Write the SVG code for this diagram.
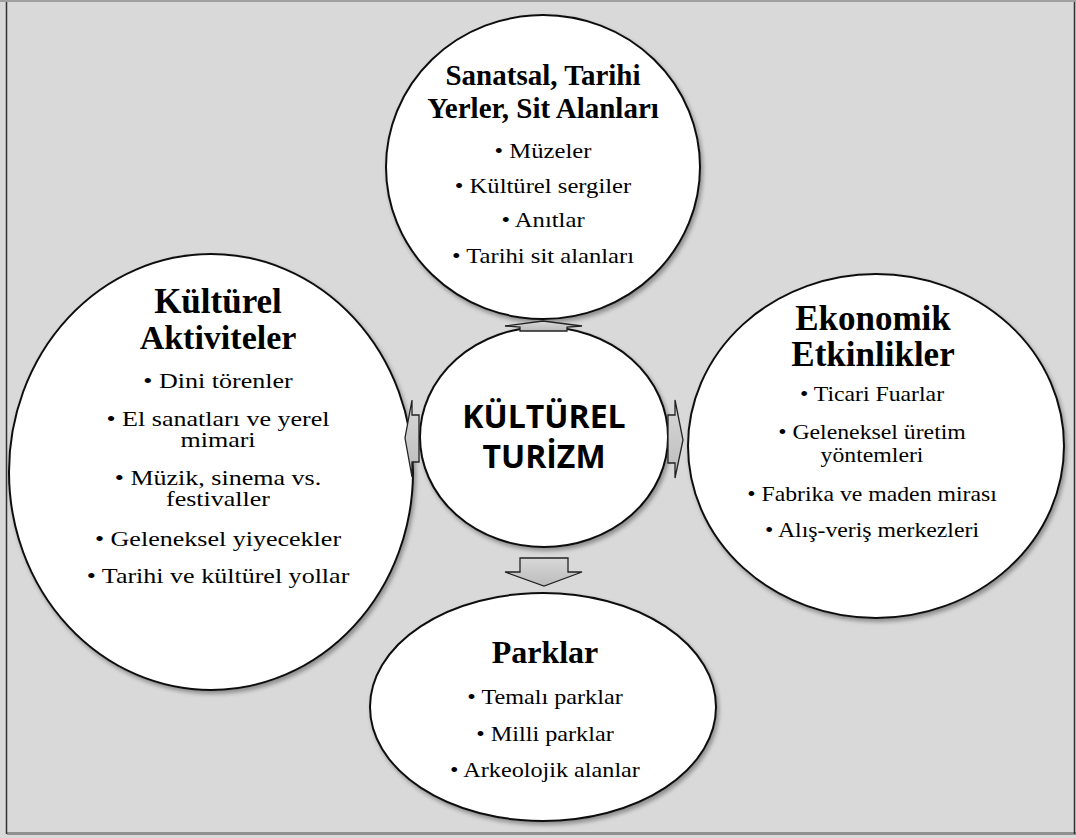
<svg xmlns="http://www.w3.org/2000/svg" width="1076" height="838" viewBox="0 0 1076 838">
<defs>
<style>
.ell{fill:#fff;stroke:#111;stroke-width:2;filter:url(#sh)}
.ttl{font-family:"Liberation Serif",serif;font-weight:bold;text-anchor:middle;fill:#000}
.bul{font-family:"Liberation Serif",serif;font-size:22px;text-anchor:middle;fill:#000}
.bul21{font-family:"Liberation Serif",serif;font-size:21px;text-anchor:middle;fill:#000}
.ctr{font-family:"Open Sans","Liberation Sans",sans-serif;font-weight:bold;font-size:32px;text-anchor:middle;fill:#000}
.arr{fill:url(#ag);stroke:#222;stroke-width:1.3;stroke-linejoin:miter}
</style>
<filter id="sh" x="-10%" y="-10%" width="125%" height="125%">
<feDropShadow dx="2" dy="3" stdDeviation="2" flood-color="#000" flood-opacity="0.35"/>
</filter>
<linearGradient id="ag" x1="0" y1="0" x2="0" y2="1">
<stop offset="0" stop-color="#d8d8d8"/>
<stop offset="1" stop-color="#bcbcbc"/>
</linearGradient>
</defs>
<rect x="0" y="0" width="1076" height="838" fill="#d9d9d9"/>
<rect x="0" y="0" width="1076" height="2" fill="#a0a0a0"/>
<rect x="7" y="832" width="1069" height="3" fill="#909090"/>
<line x1="6.5" y1="2" x2="6.5" y2="834" stroke="#333" stroke-width="1.5"/>
<line x1="1074.5" y1="2" x2="1074.5" y2="834" stroke="#333" stroke-width="1.5"/>

<g id="node-sanatsal">
<ellipse class="ell" cx="543" cy="167" rx="157" ry="152"/>
<text class="ttl" x="543" y="85" font-size="29">Sanatsal, Tarihi</text>
<text class="ttl" x="543" y="118" font-size="29">Yerler, Sit Alanları</text>
<g transform="translate(543,0) scale(1.12,1)">
<text class="bul" x="0" y="158">•  Müzeler</text>
<text class="bul" x="0" y="193">•  Kültürel sergiler</text>
<text class="bul" x="0" y="227">•  Anıtlar</text>
<text class="bul" x="0" y="263">•  Tarihi sit alanları</text>
</g>
</g>

<g id="node-kulturel-aktiviteler">
<ellipse class="ell" cx="211" cy="472" rx="202" ry="218"/>
<text class="ttl" x="218" y="313" font-size="35">Kültürel</text>
<text class="ttl" x="218" y="349" font-size="34">Aktiviteler</text>
<g transform="translate(218,0) scale(1.24,1)">
<text class="bul21" x="0" y="388">•  Dini törenler</text>
<text class="bul21" x="0" y="426">•  El sanatları ve yerel</text>
<text class="bul21" x="0" y="447">mimari</text>
<text class="bul21" x="0" y="485">•  Müzik, sinema vs.</text>
<text class="bul21" x="0" y="506">festivaller</text>
<text class="bul21" x="0" y="546">•  Geleneksel yiyecekler</text>
<text class="bul21" x="0" y="583">•  Tarihi ve kültürel yollar</text>
</g>
</g>

<g id="node-ekonomik">
<ellipse class="ell" cx="876" cy="446" rx="188" ry="172"/>
<text class="ttl" x="873" y="330" font-size="35">Ekonomik</text>
<text class="ttl" x="873" y="366" font-size="35">Etkinlikler</text>
<g transform="translate(872,0) scale(1.08,1)">
<text class="bul" x="0" y="401">•  Ticari Fuarlar</text>
<text class="bul" x="0" y="439">•  Geleneksel üretim</text>
<text class="bul" x="0" y="462">yöntemleri</text>
<text class="bul" x="0" y="501">•  Fabrika ve maden mirası</text>
<text class="bul" x="0" y="537">•  Alış-veriş merkezleri</text>
</g>
</g>

<g id="node-parklar">
<ellipse class="ell" cx="543" cy="707" rx="173" ry="114"/>
<text class="ttl" x="545" y="663" font-size="32">Parklar</text>
<g transform="translate(545,0) scale(1.1,1)">
<text class="bul" x="0" y="704">•  Temalı parklar</text>
<text class="bul" x="0" y="741">•  Milli parklar</text>
<text class="bul" x="0" y="777">•  Arkeolojik alanlar</text>
</g>
</g>

<g id="node-kulturel-turizm">
<ellipse class="ell" cx="544" cy="437" rx="124" ry="110"/>
<text class="ctr" x="544" y="428">KÜLTÜREL</text>
<text class="ctr" x="544" y="468">TURİZM</text>
</g>

<g id="connectors">
<polygon class="arr" points="520,331 520,327 505,326 543,321 582,326 567,327 567,331"/>
<polygon class="arr" points="419,415 412,415 412,400 405,438 412,477 412,462 419,462"/>
<polygon class="arr" points="668,415 675,415 675,400 683,440 675,478 675,463 668,463"/>
<polygon class="arr" points="520,558 568,558 568,572 582,572 544,586 505,572 520,572"/>
</g>
</svg>
